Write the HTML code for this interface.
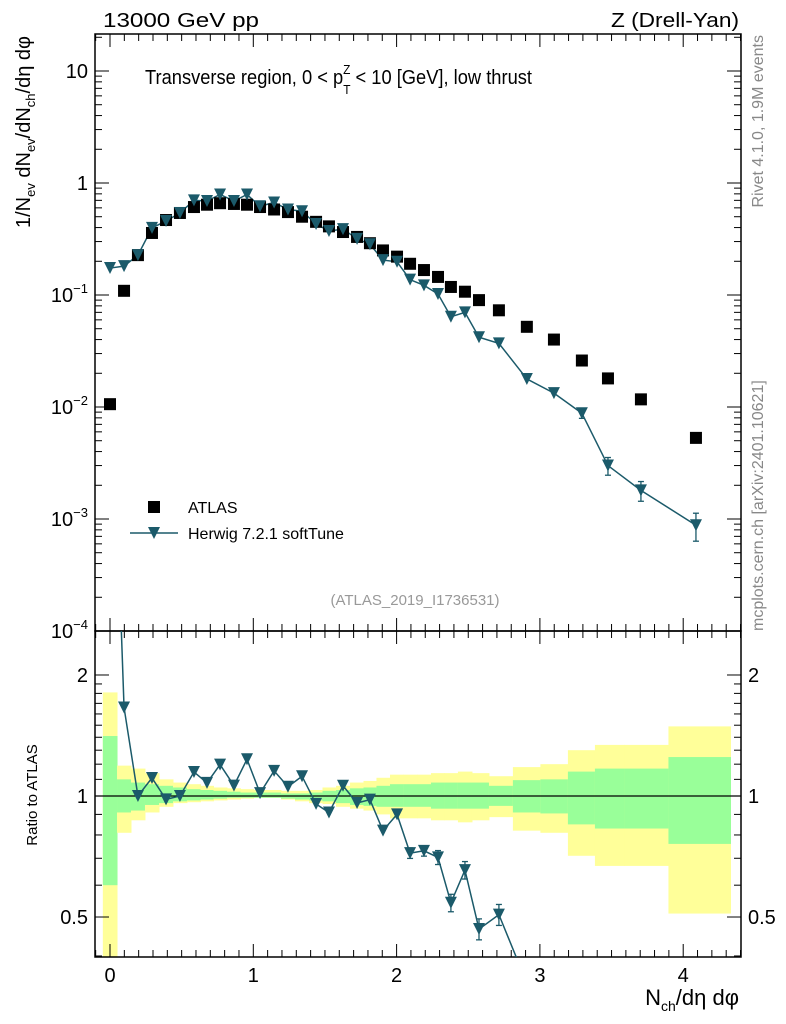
<!DOCTYPE html>
<html><head><meta charset="utf-8"><style>
html,body{margin:0;padding:0;background:#fff;width:786px;height:1024px;overflow:hidden}
svg{display:block}
svg text{font-family:"Liberation Sans",sans-serif}
</style></head><body>
<svg id="c" width="786" height="1024" viewBox="0 0 786 1024" xmlns="http://www.w3.org/2000/svg">
<defs>
<clipPath id="mclip"><rect x="95" y="34" width="646" height="597"/></clipPath>
<clipPath id="rclip"><rect x="95" y="631" width="646" height="326"/></clipPath>
</defs>
<g id="bands" clip-path="url(#rclip)"></g>
<g id="axes"></g>
<g id="mainmarks" clip-path="url(#mclip)"></g>
<g id="ratiomarks" clip-path="url(#rclip)"></g>
<text x="103" y="27" font-size="20" textLength="156" lengthAdjust="spacingAndGlyphs">13000 GeV pp</text>
<text x="739" y="27" font-size="20" text-anchor="end" textLength="128" lengthAdjust="spacingAndGlyphs">Z (Drell-Yan)</text>
<text x="145" y="84" font-size="20" textLength="387" lengthAdjust="spacingAndGlyphs">Transverse region, 0 &lt; p<tspan font-size="13" dy="10">T</tspan><tspan font-size="13" dx="-8" dy="-20">Z</tspan><tspan dy="10"> &lt; 10 [GeV], low thrust</tspan></text>
<text transform="translate(30,36) rotate(-90)" font-size="20" text-anchor="end">1/N<tspan font-size="13" dy="5">ev</tspan><tspan dy="-5"> dN</tspan><tspan font-size="13" dy="5">ev</tspan><tspan dy="-5">/dN</tspan><tspan font-size="13" dy="5">ch</tspan><tspan dy="-5">/dη dφ</tspan></text>
<text transform="translate(37,795) rotate(-90)" font-size="15" text-anchor="middle">Ratio to ATLAS</text>
<text x="739" y="1005" font-size="22" text-anchor="end">N<tspan font-size="14" dy="6">ch</tspan><tspan dy="-6">/dη dφ</tspan></text>
<text transform="translate(763,35) rotate(-90)" font-size="16" fill="#888" text-anchor="end">Rivet 4.1.0,  1.9M events</text>
<text transform="translate(763,631) rotate(-90)" font-size="16" fill="#888">mcplots.cern.ch [arXiv:2401.10621]</text>
<text x="415" y="605" font-size="15" fill="#999" text-anchor="middle">(ATLAS_2019_I1736531)</text>
<g>
<rect x="148" y="501" width="12" height="12" fill="#000"/>
<text x="188" y="513" font-size="16">ATLAS</text>
<line x1="130" y1="533" x2="178" y2="533" stroke="#1b5a6a" stroke-width="1.5"/>
<path d="M148,527 L160,527 L154,539 Z" fill="#1b5a6a"/>
<text x="188" y="539" font-size="16">Herwig 7.2.1 softTune</text>
</g>
</svg>
<script>
const xVals=[0,.098,.195,.293,.391,.488,.586,.677,.768,.865,.956,1.047,1.145,1.242,1.34,1.438,1.528,1.626,1.724,1.814,1.905,2.003,2.094,2.191,2.289,2.379,2.477,2.575,2.714,2.909,3.098,3.293,3.475,3.705,4.089];
const atlas=[.0106,.109,.227,.358,.467,.54,.61,.64,.66,.65,.64,.61,.58,.55,.50,.45,.41,.365,.33,.29,.25,.22,.19,.167,.145,.118,.107,.090,.073,.052,.040,.026,.018,.0117,.0053];
const herwig=[.174,.181,.227,.397,.458,.54,.70,.69,.79,.69,.79,.62,.67,.58,.56,.43,.373,.387,.317,.284,.205,.198,.137,.122,.102,.064,.070,.042,.037,.0178,.0133,.0088,.0030,.0018,.00088];
const herwigErr=[.02,.02,.01,.01,.01,.01,.01,.01,.01,.01,.01,.01,.01,.01,.01,.01,.01,.01,.01,.02,.02,.02,.03,.03,.04,.05,.05,.06,.06,.07,.08,.1,.18,.2,.28];
const yHi=[1.81,1.19,1.17,1.14,1.10,1.08,1.07,1.06,1.05,1.045,1.04,1.035,1.035,1.03,1.03,1.035,1.05,1.06,1.08,1.09,1.11,1.13,1.13,1.13,1.14,1.14,1.15,1.14,1.12,1.18,1.2,1.3,1.34,1.34,1.49];
const yLo=[0.3,.81,.87,.91,.94,.96,.965,.97,.975,.98,.985,.99,.99,.98,.97,.96,.955,.94,.93,.92,.9,.88,.88,.88,.87,.87,.86,.87,.886,.82,.81,.71,.67,.67,.51];
const gHi=[1.41,1.10,1.08,1.07,1.06,1.05,1.04,1.035,1.03,1.025,1.02,1.02,1.02,1.015,1.015,1.02,1.03,1.035,1.045,1.05,1.06,1.07,1.07,1.07,1.08,1.08,1.08,1.08,1.06,1.095,1.1,1.15,1.17,1.17,1.25];
const gLo=[0.6,.91,.92,.95,.96,.97,.975,.98,.985,.99,.99,.99,.99,.985,.98,.975,.97,.96,.95,.945,.94,.94,.94,.94,.93,.93,.93,.93,.945,.91,.905,.85,.83,.83,.76];
const xTicks=[0,1,2,3,4];
const mainYTicks=[1,0,-1,-2,-3,-4];
const ratioTicks=["0.5","1","2"];

const NS="http://www.w3.org/2000/svg";
const X0=95,X1=741,MT=34,MB=631,RB=957;
const sx=v=>110+143.3*v;
const sy=v=>183-112*Math.log10(v);
const sr=v=>796-402*Math.log10(v);
function mk(tag,attrs,parent){const e=document.createElementNS(NS,tag);for(const k in attrs)e.setAttribute(k,attrs[k]);parent.appendChild(e);return e;}
const axes=document.getElementById('axes'),bands=document.getElementById('bands'),mm=document.getElementById('mainmarks'),rm=document.getElementById('ratiomarks');
const edges=[xVals[0]-0.05];
for(let i=0;i<xVals.length-1;i++)edges.push((xVals[i]+xVals[i+1])/2);
edges.push(4.33);
for(let i=0;i<xVals.length;i++){
  const a=sx(edges[i]),b=sx(edges[i+1]);
  const y=mk('rect',{x:a,y:sr(yHi[i]),width:b-a+0.5,height:sr(yLo[i])-sr(yHi[i]),fill:'#ffff99'},bands);
  
  
  const g=mk('rect',{x:a,y:sr(gHi[i]),width:b-a+0.5,height:sr(gLo[i])-sr(gHi[i]),fill:'#99ff99'},bands);
  
  
}
mk('rect',{x:X0,y:MT,width:X1-X0,height:MB-MT,fill:'none',stroke:'#000','stroke-width':1.5},axes);
mk('rect',{x:X0,y:MB,width:X1-X0,height:RB-MB,fill:'none',stroke:'#000','stroke-width':1.5},axes);
mk('line',{x1:X0,y1:sr(1),x2:X1,y2:sr(1),stroke:'#000','stroke-width':1.3},axes);
for(let k=-1;k<=44;k++){const v=k/10;const px=sx(v);if(px<X0||px>X1)continue;const L=(k%10===0)?13:7;
  [[MT,1],[MB,-1],[MB,1],[RB,-1]].forEach(([y0,d])=>mk('line',{x1:px,y1:y0,x2:px,y2:y0+d*L,stroke:'#000'},axes));}
xTicks.forEach(v=>{const t=mk('text',{x:sx(v),y:982,'font-size':20,'text-anchor':'middle'},axes);t.textContent=v;
  
  });
for(let e=-4;e<=1;e++){for(let m=1;m<10;m++){const v=m*Math.pow(10,e);const py=sy(v);if(py<MT||py>MB)continue;const L=m===1?14:7;
  mk('line',{x1:X0,y1:py,x2:X0+L,y2:py,stroke:'#000'},axes);mk('line',{x1:X1,y1:py,x2:X1-L,y2:py,stroke:'#000'},axes);}}
mainYTicks.forEach(e=>{const py=sy(Math.pow(10,e));const t=mk('text',{x:88,y:py+7,'font-size':20,'text-anchor':'end'},axes);
  
  
  if(e===1)t.textContent='10';else if(e===0)t.textContent='1';else{t.textContent='10';const s=mk('tspan',{dy:-9,'font-size':13},t);s.textContent=String(e).replace('-','−');}});
const rt=[0.4,0.5,0.6,0.7,0.8,0.9,1,1.1,1.2,1.3,1.4,1.5,1.6,1.7,1.8,1.9,2];
rt.forEach(v=>{const py=sr(v);if(py<MB||py>RB)return;const L=(v===0.5||v===1||v===2)?14:7;
  mk('line',{x1:X0,y1:py,x2:X0+L,y2:py,stroke:'#000'},axes);mk('line',{x1:X1,y1:py,x2:X1-L,y2:py,stroke:'#000'},axes);});
ratioTicks.forEach(s=>{const py=sr(parseFloat(s));
  const t=mk('text',{x:88,y:py+7,'font-size':20,'text-anchor':'end'},axes);t.textContent=s;
  
  
  const t2=mk('text',{x:748,y:py+7,'font-size':20},axes);t2.textContent=s;
  
  });
const col='#1b5a6a';
mk('polyline',{points:xVals.map((x,i)=>sx(x)+','+sy(herwig[i])).join(' '),fill:'none',stroke:col,'stroke-width':1.5},mm);
const ratio=herwig.map((h,i)=>h/atlas[i]);
mk('polyline',{points:xVals.map((x,i)=>sx(x)+','+sr(ratio[i])).join(' '),fill:'none',stroke:col,'stroke-width':1.5},rm);
function tri(cx,cy,p){const t=mk('path',{d:`M${cx-6},${cy-6} L${cx+6},${cy-6} L${cx},${cy+6} Z`,fill:col},p);return t;}
function ebar(cx,y1,y2,p){if(Math.abs(y2-y1)<8)return;mk('line',{x1:cx,y1:y1,x2:cx,y2:y2,stroke:col,'stroke-width':1.3},p);
  mk('line',{x1:cx-3,y1:y1,x2:cx+3,y2:y1,stroke:col,'stroke-width':1.3},p);mk('line',{x1:cx-3,y1:y2,x2:cx+3,y2:y2,stroke:col,'stroke-width':1.3},p);}
xVals.forEach((x,i)=>{
  const px=sx(x);
  const r=mk('rect',{x:px-6,y:sy(atlas[i])-6,width:12,height:12,fill:'#000'},mm);
  
  
  ebar(px,sy(herwig[i]*(1+herwigErr[i])),sy(herwig[i]*(1-herwigErr[i])),mm);
  const t=tri(px,sy(herwig[i]),mm);
  
  
  ebar(px,sr(ratio[i]*(1+herwigErr[i])),sr(ratio[i]*(1-herwigErr[i])),rm);
  const t2=tri(px,sr(ratio[i]),rm);
  
  
});
</script>
</body></html>
